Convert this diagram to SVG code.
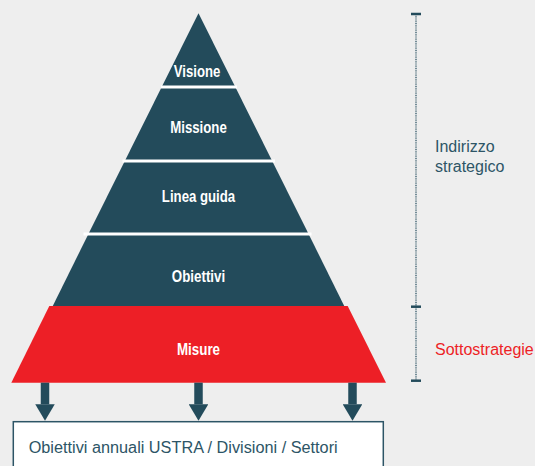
<svg xmlns="http://www.w3.org/2000/svg" width="535" height="466" viewBox="0 0 535 466">
  <style>
    .band { fill: #234b5b; }
    .red { fill: #ed1f26; }
    .sep { stroke: #ffffff; stroke-width: 3; }
    .lbl { font-family: "Liberation Sans", Arial, sans-serif; font-weight: bold; font-size: 16px; fill: #ffffff; text-anchor: middle; }
    .side { font-family: "Liberation Sans", Arial, sans-serif; font-size: 16px; }
    .tick { stroke: #234b5b; stroke-width: 2.5; }
    .arrow { stroke: #234b5b; stroke-width: 8.5; }
  </style>
  <defs>
    <marker id="head" markerUnits="userSpaceOnUse" viewBox="0 0 16.4 19.5" markerWidth="16.4" markerHeight="19.5" refX="0" refY="9.75" orient="auto">
      <path d="M0,0 L16.4,9.75 L0,19.5 Z" fill="#234b5b"/>
    </marker>
  </defs>
  <rect width="535" height="466" fill="#eeeeee"/>

  <g id="visione">
    <polygon class="band" points="198.5,13.3 235.3,87 161.7,87"/>
    <text class="lbl" x="197" y="77" textLength="46.5" lengthAdjust="spacingAndGlyphs">Visione</text>
  </g>
  <g id="missione">
    <polygon class="band" points="161.7,87 235.3,87 272.2,161 124.8,161"/>
    <text class="lbl" x="198.5" y="132.7" textLength="56.5" lengthAdjust="spacingAndGlyphs">Missione</text>
  </g>
  <g id="linea-guida">
    <polygon class="band" points="124.8,161 272.2,161 308.6,234 88.4,234"/>
    <text class="lbl" x="198.5" y="201.7" textLength="73.3" lengthAdjust="spacingAndGlyphs">Linea guida</text>
  </g>
  <g id="obiettivi">
    <polygon class="band" points="88.4,234 308.6,234 344.5,306.5 52.5,306.5"/>
    <text class="lbl" x="198.5" y="282" textLength="53.3" lengthAdjust="spacingAndGlyphs">Obiettivi</text>
  </g>
  <g id="misure">
    <polygon class="red" points="49.3,306 347.7,306 386,382.7 11.3,382.7"/>
    <text class="lbl" x="198.5" y="355" textLength="43" lengthAdjust="spacingAndGlyphs">Misure</text>
  </g>
  <g id="separators">
    <line class="sep" x1="161" y1="87" x2="237" y2="87"/>
    <line class="sep" x1="122.5" y1="161" x2="275" y2="161"/>
    <line class="sep" x1="83.5" y1="234" x2="311.5" y2="234"/>
  </g>

  <g id="obiettivi-annuali">
    <rect x="13.3" y="421.7" width="370" height="60" fill="#ffffff" stroke="#2d5566" stroke-width="1.5"/>
    <text class="side" x="28.7" y="452.7" fill="#2d5566" textLength="309" lengthAdjust="spacingAndGlyphs">Obiettivi annuali USTRA / Divisioni / Settori</text>
  </g>

  <g id="connectors">
    <line class="arrow" x1="45" y1="382.7" x2="45" y2="404.3" marker-end="url(#head)"/>
    <line class="arrow" x1="198.5" y1="382.7" x2="198.5" y2="404.3" marker-end="url(#head)"/>
    <line class="arrow" x1="352.5" y1="382.7" x2="352.5" y2="404.3" marker-end="url(#head)"/>
  </g>

  <g id="bracket">
    <line x1="416" y1="14" x2="416" y2="380.7" stroke="#4a6b79" stroke-width="1.5" stroke-dasharray="1 0.8"/>
    <line class="tick" x1="411" y1="14" x2="421" y2="14"/>
    <line class="tick" x1="411" y1="306.7" x2="421" y2="306.7"/>
    <line class="tick" x1="411" y1="380.7" x2="421" y2="380.7"/>
  </g>

  <g id="indirizzo-strategico">
    <text class="side" fill="#2d5566"><tspan x="435" y="152.3">Indirizzo</tspan><tspan x="435" y="171.7">strategico</tspan></text>
  </g>
  <g id="sottostrategie">
    <text class="side" x="435" y="355" fill="#ed1f26">Sottostrategie</text>
  </g>
</svg>
